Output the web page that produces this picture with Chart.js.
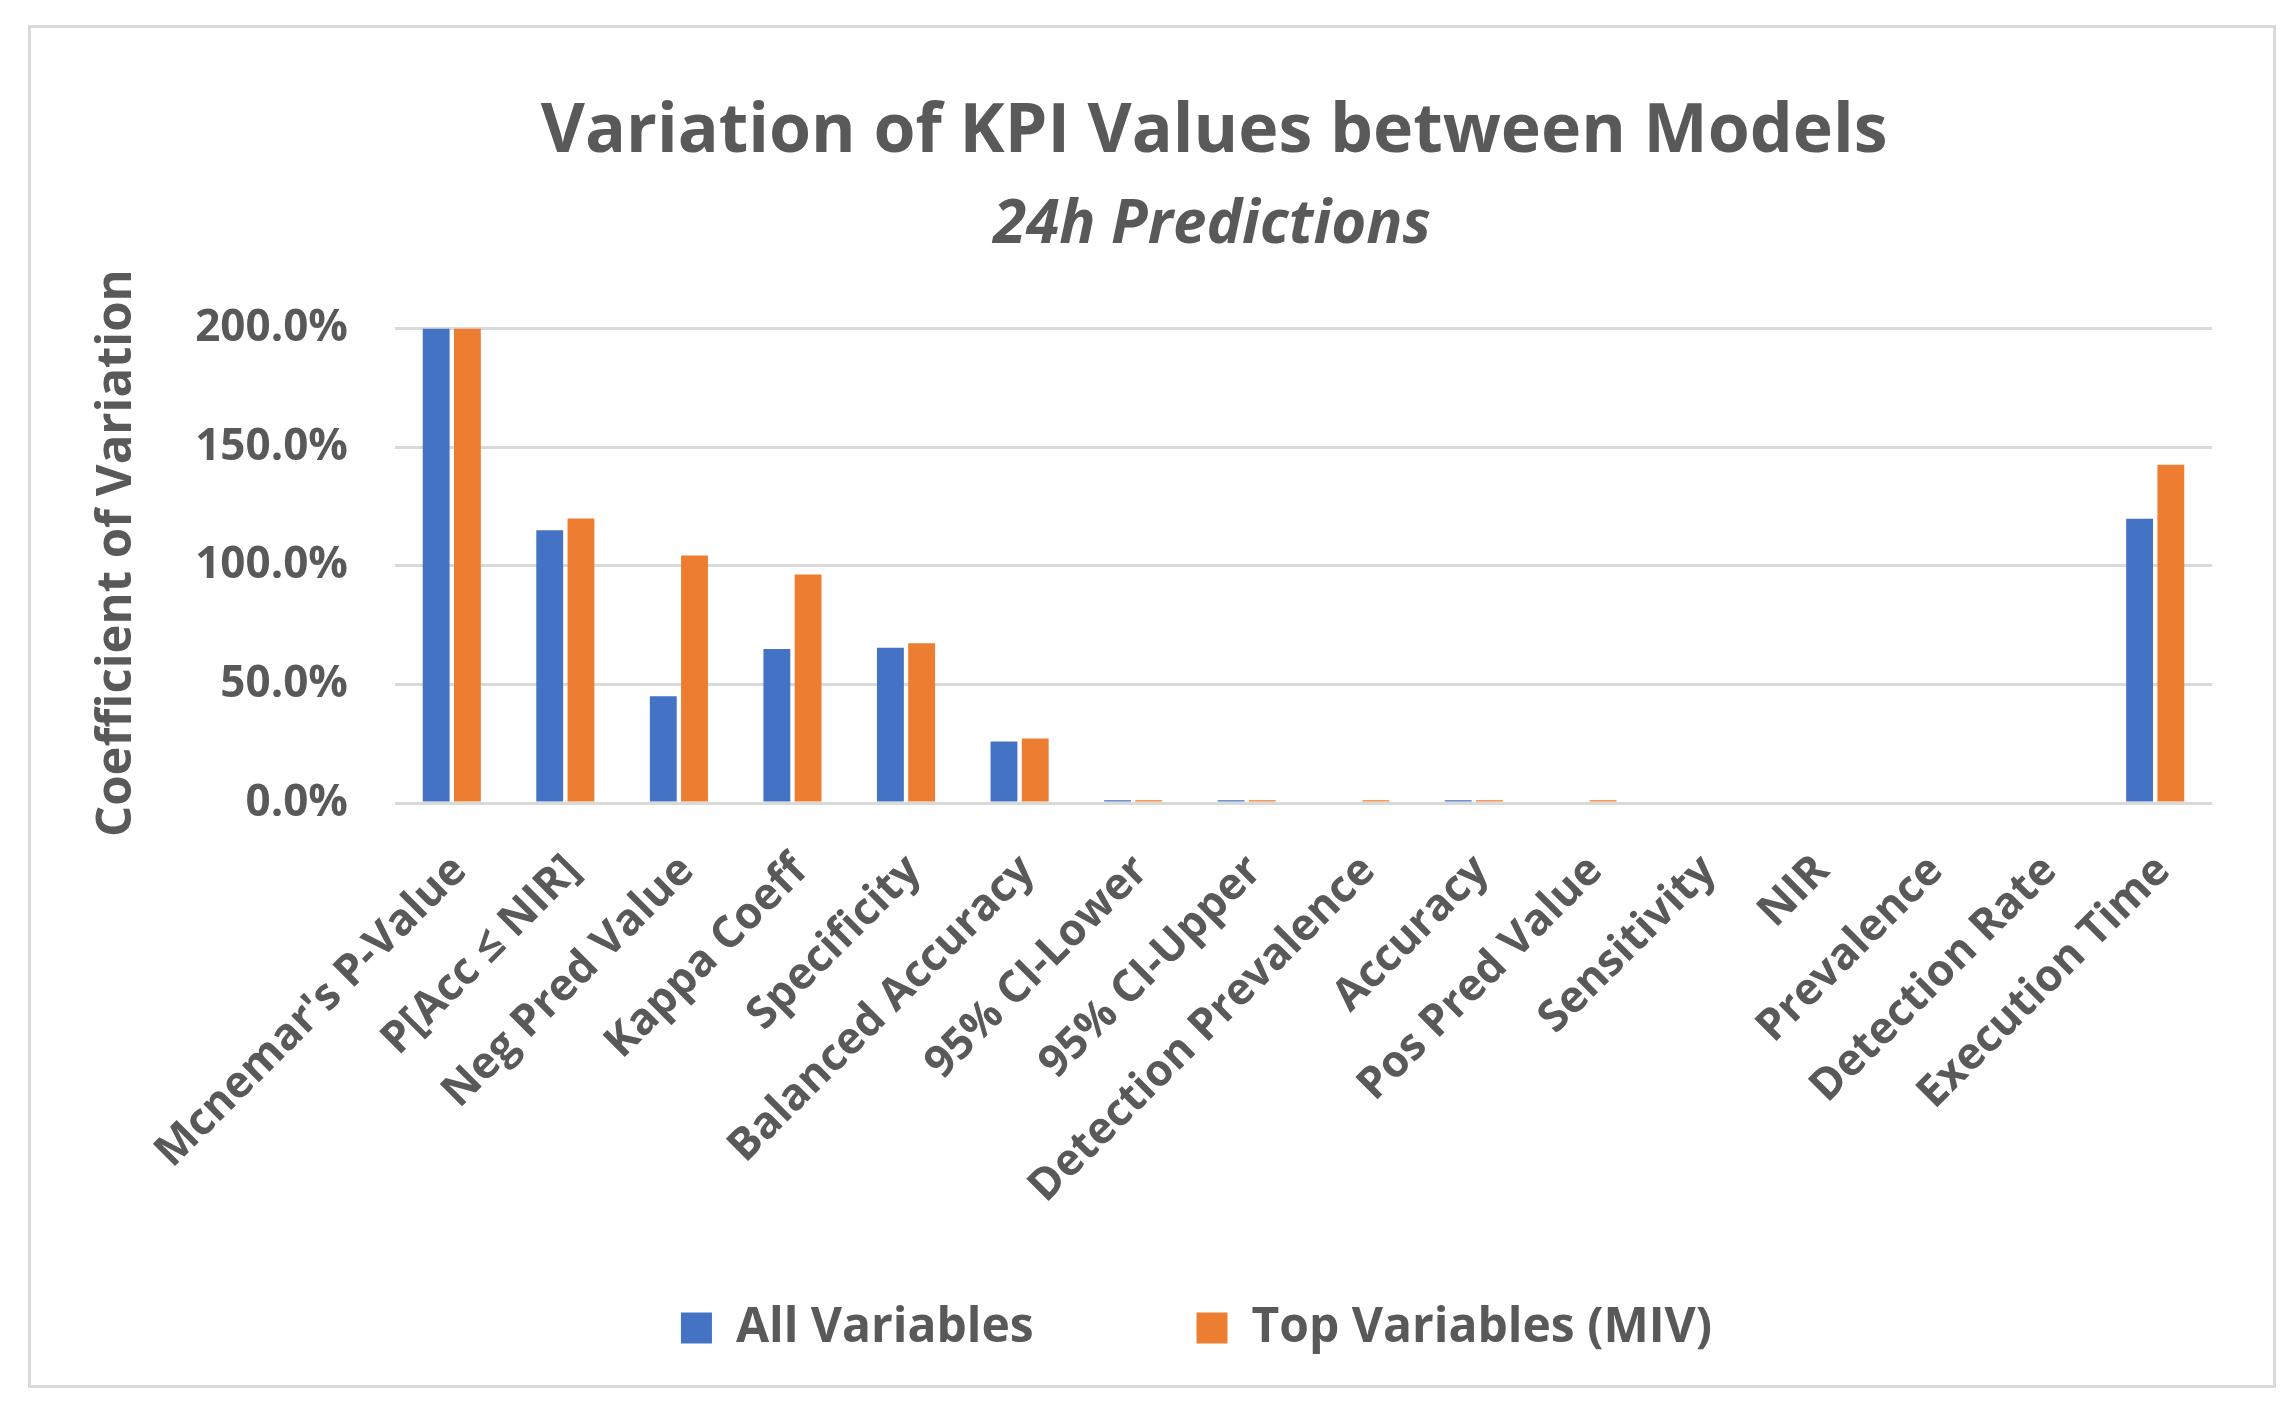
<!DOCTYPE html>
<html>
<head>
<meta charset="utf-8">
<script src="https://cdn.jsdelivr.net/npm/chart.js@4"></script>
<style>
  html, body { margin: 0; padding: 0; background: #ffffff; }
  #frame {
    position: absolute; left: 28px; top: 25px;
    width: 2242px; height: 1357px;
    border: 3px solid #D9D9D9; background: #ffffff;
  }
</style>
</head>
<body>
<div id="frame"><canvas id="myChart"></canvas></div>
<script>
var categories = ["Mcnemar's P-Value", 'P[Acc \u2264 NIR]', 'Neg Pred Value', 'Kappa Coeff', 'Specificity',
    'Balanced Accuracy', '95% CI-Lower', '95% CI-Upper', 'Detection Prevalence', 'Accuracy',
    'Pos Pred Value', 'Sensitivity', 'NIR', 'Prevalence', 'Detection Rate', 'Execution Time'];

var allVariables = [200, 115, 45, 64.9, 65.4, 25.9, 1.2, 1.2, 0, 1.2, 0, 0, 0, 0, 0, 119.8];
var topVariables = [200, 119.9, 104.3, 96.3, 67.3, 27.2, 1.2, 1.2, 1.2, 1.2, 1.2, 0, 0, 0, 0, 142.6];

var yTicks = [0, 50, 100, 150, 200];

var textColor = '#595959';
var nbsp2 = '\u00a0\u00a0';
Chart.defaults.font.family = "'Open Sans', sans-serif";
Chart.defaults.font.weight = 'bold';
Chart.defaults.color = textColor;

var ctx = document.getElementById('myChart').getContext('2d');

var graphData = {
    type: 'bar',
    data: {
        labels: categories,
        datasets: [
            {
                label: 'All Variables',
                data: allVariables,
                backgroundColor: '#4472C4',
                borderWidth: 0,
                categoryPercentage: 0.55,
                barPercentage: 0.86
            },
            {
                label: 'Top Variables (MIV)',
                data: topVariables,
                backgroundColor: '#ED7D31',
                borderWidth: 0,
                categoryPercentage: 0.55,
                barPercentage: 0.86
            }
        ]
    },
    options: {
        responsive: true,
        maintainAspectRatio: false,
        animation: false,
        layout: {
            padding: { left: 150, right: 61, top: 0, bottom: 23 }
        },
        plugins: {
            title: {
                display: true,
                // leading spaces nudge the title right, over the plot like the original
                text: nbsp2 + 'Variation of KPI Values between Models',
                color: textColor,
                font: { size: 68, weight: 'bold' },
                padding: { top: 64, bottom: 8 }
            },
            subtitle: {
                display: true,
                text: nbsp2 + '24h Predictions',
                color: textColor,
                font: { size: 60, weight: 'bold', style: 'italic' },
                padding: { top: 8, bottom: 67 }
            },
            legend: {
                position: 'bottom',
                labels: {
                    color: textColor,
                    font: { size: 48, weight: 'bold' },
                    boxWidth: 31,
                    boxHeight: 31,
                    padding: 88,
                    generateLabels: function (chart) {
                        var items = Chart.defaults.plugins.legend.labels.generateLabels(chart);
                        // wider gap between the two entries, as in the original
                        items[0].text = items[0].text + '\u00a0\u00a0\u00a0\u00a0\u00a0\u00a0';
                        return items;
                    }
                }
            },
            tooltip: { enabled: false }
        },
        scales: {
            x: {
                grid: { display: false, drawTicks: false },
                border: { display: false },
                ticks: {
                    color: textColor,
                    font: { size: 44, weight: 'bold' },
                    minRotation: 45,
                    maxRotation: 45,
                    autoSkip: false,
                    padding: 42,
                    labelOffset: 8
                },
                afterFit: function (scale) { scale.height = 413; }
            },
            y: {
                min: 0,
                max: 200,
                grid: { color: '#D9D9D9', lineWidth: 3, drawTicks: false },
                border: { display: false },
                afterBuildTicks: function (scale) {
                    scale.ticks = yTicks.map(function (v) { return { value: v }; });
                },
                ticks: {
                    color: textColor,
                    font: { size: 44, weight: 'bold' },
                    padding: 47,
                    callback: function (value) { return value.toFixed(1) + '%'; }
                },
                title: {
                    display: true,
                    text: nbsp2 + 'Coefficient of Variation',
                    color: textColor,
                    font: { size: 49, weight: 'bold' },
                    padding: { top: -93, bottom: 0 }
                },
                afterFit: function (scale) { scale.width = 214; }
            }
        }
    }
};

var myChart = new Chart(ctx, graphData);
</script>
</body>
</html>
